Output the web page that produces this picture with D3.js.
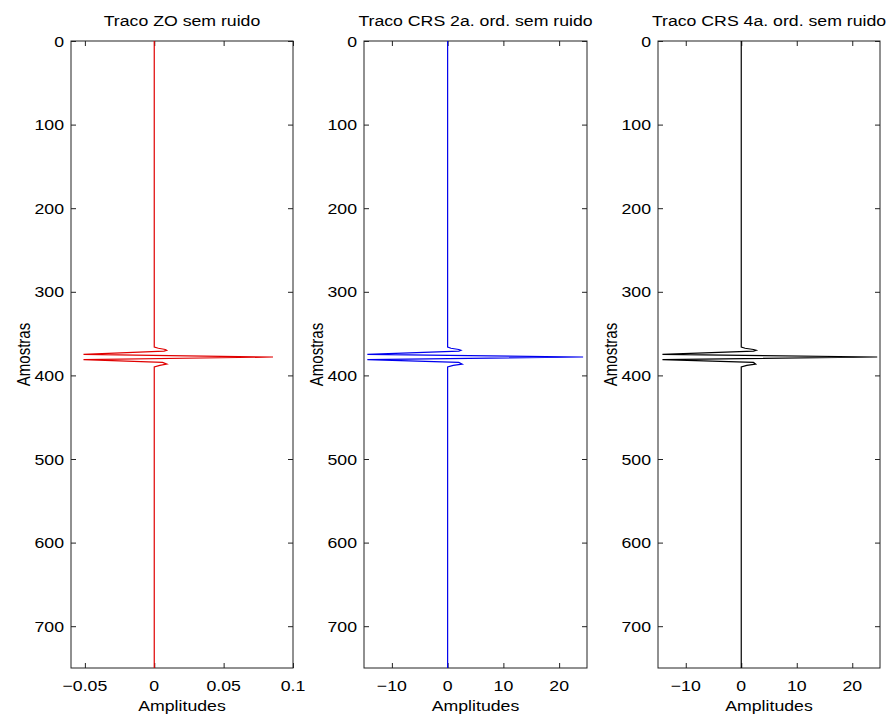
<!DOCTYPE html>
<html>
<head>
<meta charset="utf-8">
<script src="https://cdn.jsdelivr.net/npm/d3@7"></script>
<style>
  body { margin: 0; background: #fff; }
  svg { display: block; font-family: "Liberation Sans", Arial, Helvetica, sans-serif; }
  .axis path, .axis line { stroke: #222; }
  .axis text { fill: #000; }
</style>
</head>
<body>
<script>
'use strict';
// amostras (eixo y) e amplitudes de cada traco
const samples = [0, 366, 367.5, 369, 370, 371, 374.9, 378, 381.2, 384.5, 386.5, 388, 390, 750];
const zoAmp   = [0, 0, 0.003, 0.008, 0.009, 0.007, -0.051, 0.0856, -0.051, 0.006, 0.009, 0.004, 0, 0];
const crs2Amp = [0, 0, 0.6, 2.0, 2.4, 2.0, -14.4, 24.3, -14.4, 2.0, 2.6, 1.0, 0, 0];
const crs4Amp = [0, 0, 0.7, 2.2, 2.7, 2.2, -14.2, 24.5, -14.2, 2.2, 2.6, 1.0, 0, 0];

const titles = ['Traco ZO sem ruido', 'Traco CRS 2a. ord. sem ruido', 'Traco CRS 4a. ord. sem ruido'];
const sampleTicks = [0, 100, 200, 300, 400, 500, 600, 700];
const zoTicks = [-0.05, 0, 0.05, 0.1];
const crsTicks = [-10, 0, 10, 20];

const panels = [
  {title: titles[0], amp: zoAmp, domain: [-0.06, 0.1], ticks: zoTicks, color: '#e00000', left: 71, right: 293},
  {title: titles[1], amp: crs2Amp, domain: [-15, 25], ticks: crsTicks, color: '#0000ee', left: 364, right: 587},
  {title: titles[2], amp: crs4Amp, domain: [-15, 25], ticks: crsTicks, color: '#000', left: 658, right: 880}
];

const plotTop = 41, plotBottom = 668;
const sx = 1.18; // texto esticado na horizontal

const svg = d3.select(document.body).append('svg')
  .attr('width', 895).attr('height', 717);

const yScale = d3.scaleLinear().domain([0, 750]).range([plotTop, plotBottom]);
const fmt = d3.format('');

panels.forEach(function(p){
  const x = d3.scaleLinear().domain(p.domain).range([p.left, p.right]);
  const g = svg.append('g');
  const w = p.right - p.left;

  // caixa
  g.append('rect')
    .attr('x', p.left).attr('y', plotTop)
    .attr('width', w).attr('height', plotBottom - plotTop)
    .attr('fill', 'none').attr('stroke', '#222');

  // eixos com marcas para dentro
  g.append('g').attr('class', 'axis')
    .attr('transform', `translate(${p.left},0)`)
    .call(d3.axisRight(yScale).tickValues(sampleTicks).tickSize(5).tickFormat(''))
    .call(s => s.select('.domain').remove());
  g.append('g').attr('class', 'axis')
    .attr('transform', `translate(${p.right},0)`)
    .call(d3.axisLeft(yScale).tickValues(sampleTicks).tickSize(5).tickFormat(''))
    .call(s => s.select('.domain').remove());
  g.append('g').attr('class', 'axis')
    .attr('transform', `translate(0,${plotBottom})`)
    .call(d3.axisTop(x).tickValues(p.ticks).tickSize(5).tickFormat(''))
    .call(s => s.select('.domain').remove());
  g.append('g').attr('class', 'axis')
    .attr('transform', `translate(0,${plotTop})`)
    .call(d3.axisBottom(x).tickValues(p.ticks).tickSize(5).tickFormat(''))
    .call(s => s.select('.domain').remove());

  // rotulos dos eixos
  g.selectAll('.ylab').data(sampleTicks).enter().append('text')
    .attr('transform', d => `translate(${p.left - 7},${yScale(d) + 5.5}) scale(${sx},1)`)
    .attr('text-anchor', 'end')
    .attr('font-size', 15)
    .text(d => d);
  g.selectAll('.xlab').data(p.ticks).enter().append('text')
    .attr('transform', d => `translate(${x(d)},${plotBottom + 23}) scale(${sx},1)`)
    .attr('text-anchor', 'middle')
    .attr('font-size', 15)
    .text(d => fmt(d).replace('-', '\u2212'));

  g.append('text')
    .attr('transform', `translate(${(p.left + p.right) / 2},${plotBottom + 43}) scale(${sx},1)`)
    .attr('text-anchor', 'middle').attr('font-size', 15)
    .text('Amplitudes');
  g.append('text')
    .attr('transform', `translate(${p.left - 41},${(plotTop + plotBottom) / 2}) rotate(-90) scale(1,${sx})`)
    .attr('text-anchor', 'middle').attr('font-size', 15)
    .text('Amostras');
  g.append('text')
    .attr('transform', `translate(${(p.left + p.right) / 2},${plotTop - 15}) scale(${sx},1)`)
    .attr('text-anchor', 'middle').attr('font-size', 15)
    .text(p.title);

  // traco
  const line = d3.line()
    .x((d, i) => x(p.amp[i]))
    .y(d => yScale(d));
  g.append('path')
    .datum(samples)
    .attr('fill', 'none')
    .attr('stroke', p.color)
    .attr('stroke-width', 1.2)
    .attr('d', line);
});
</script>
</body>
</html>
